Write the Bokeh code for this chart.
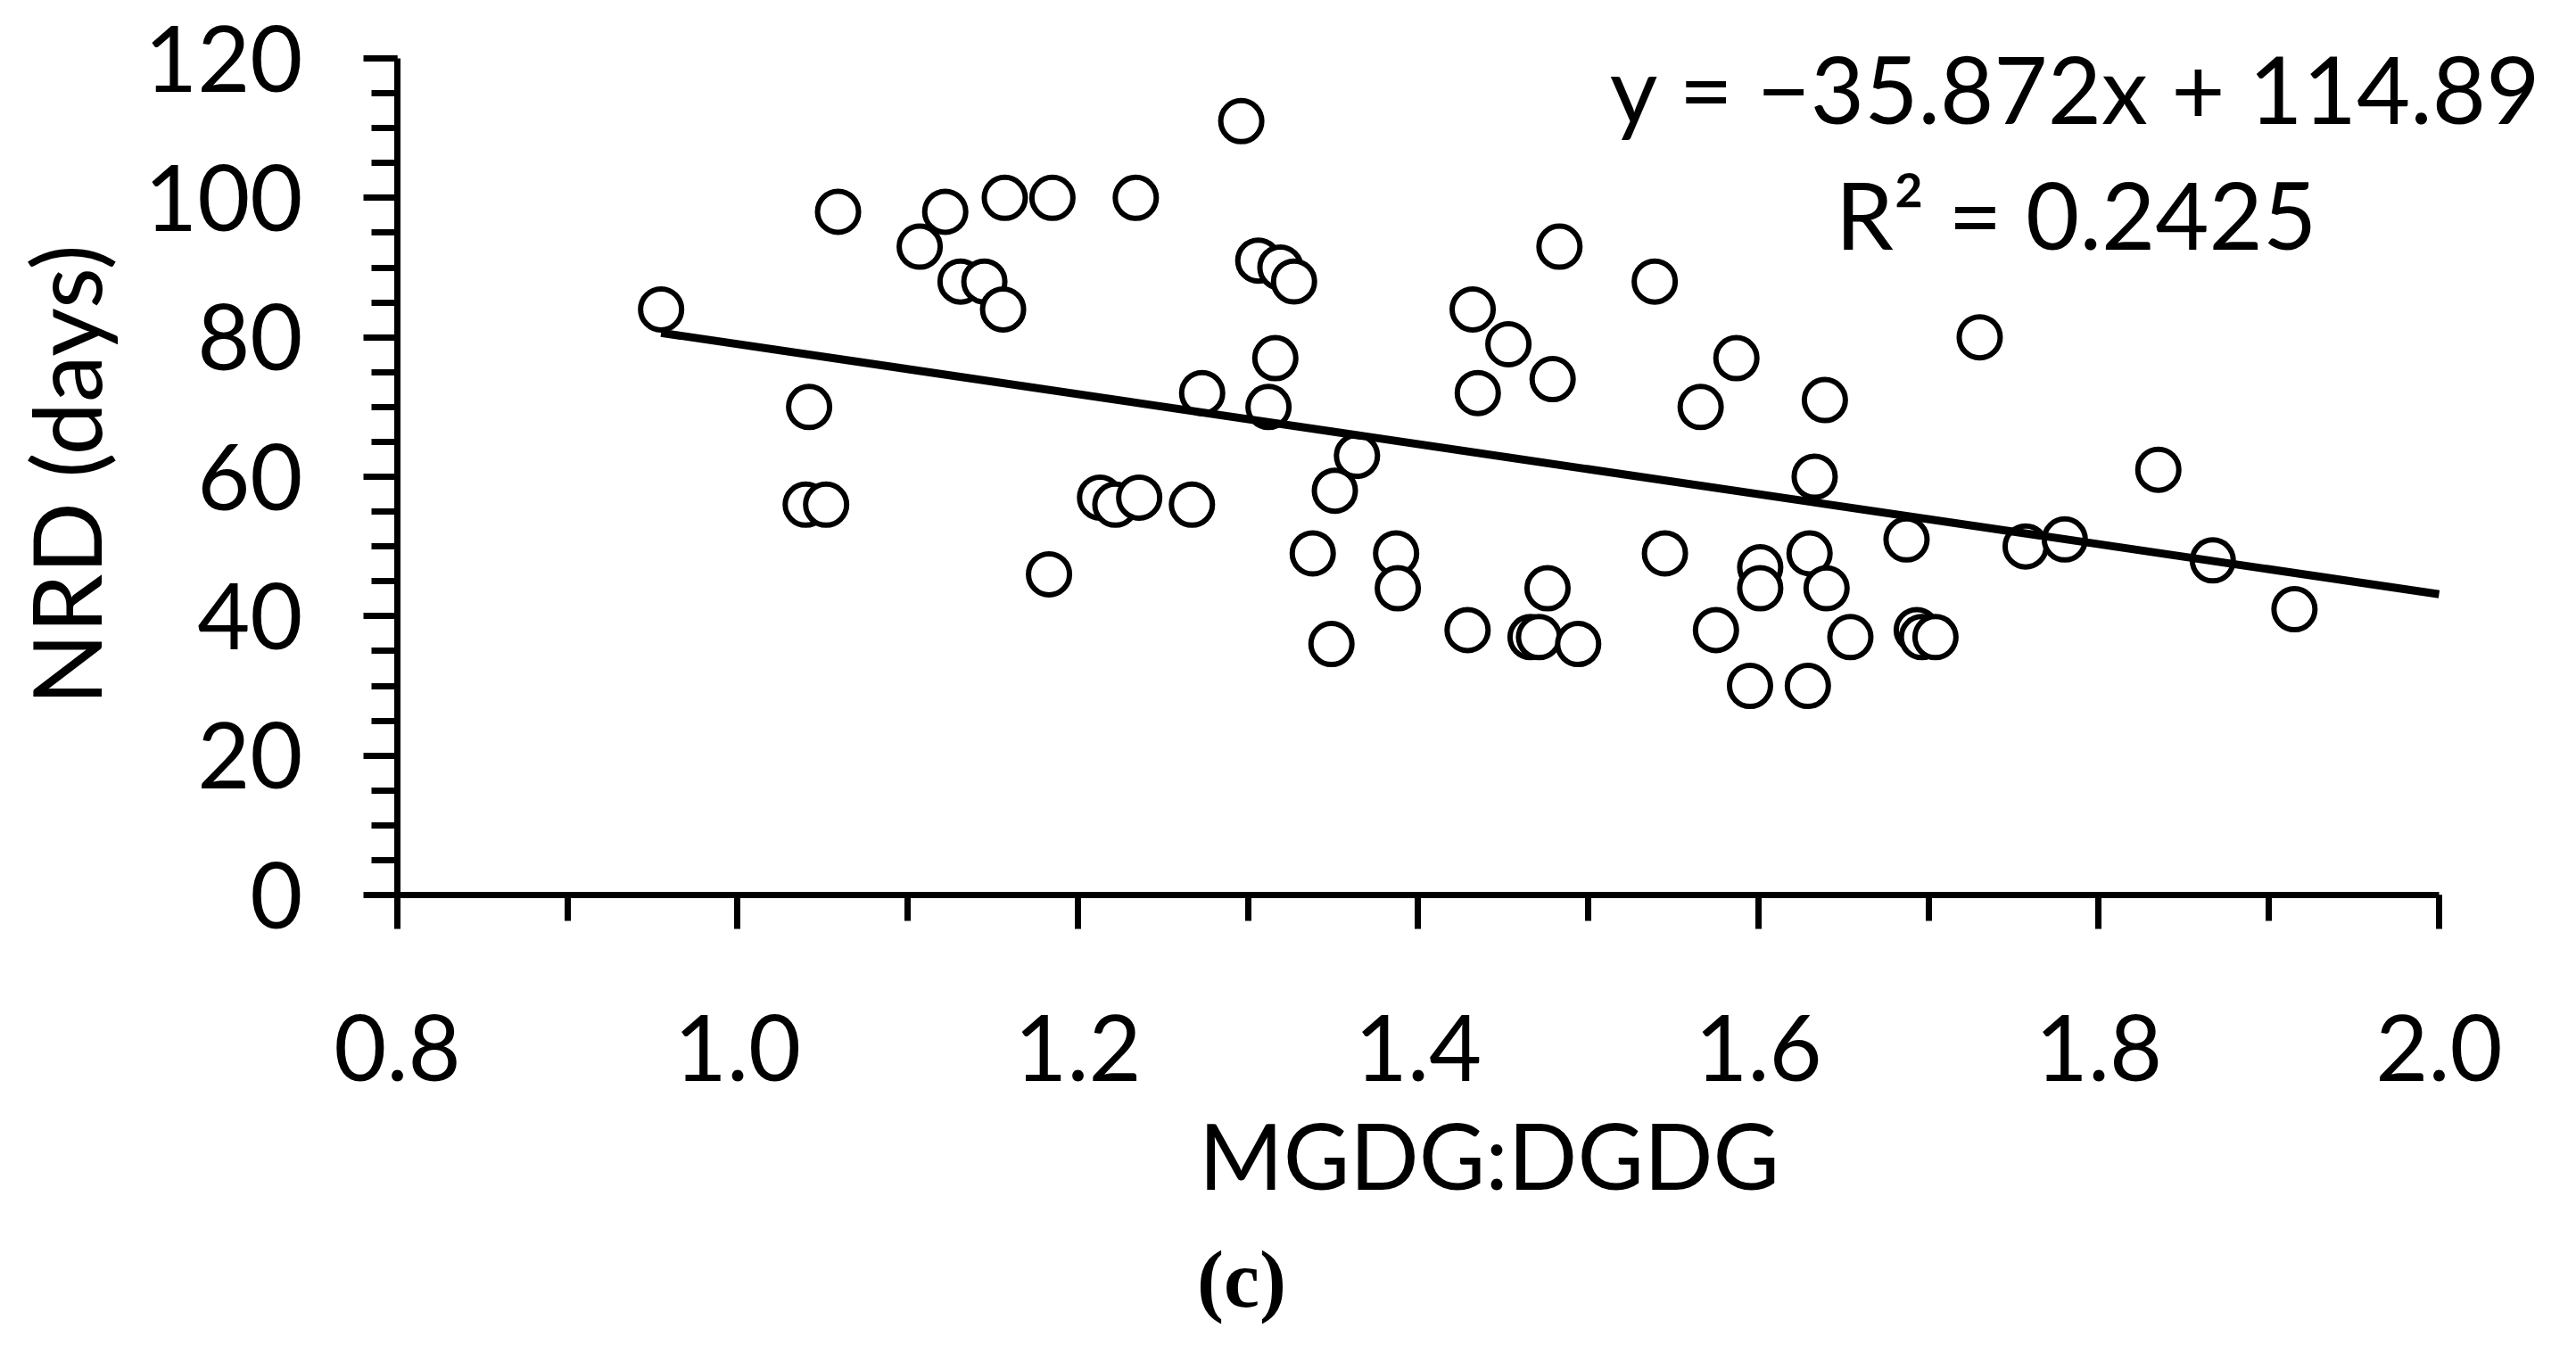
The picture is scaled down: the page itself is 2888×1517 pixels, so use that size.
import math
from bokeh.plotting import figure
from bokeh.models import Range1d, SingleIntervalTicker, NumeralTickFormatter, Label
from bokeh.embed import file_html
from bokeh.resources import INLINE

# ---- data ----
mgdg_dgdg = [0.955, 1.042, 1.040, 1.052, 1.059, 1.107, 1.122, 1.131, 1.145, 1.156,
             1.157, 1.185, 1.183, 1.213, 1.222, 1.236, 1.234, 1.267, 1.273, 1.296,
             1.306, 1.319, 1.327, 1.312, 1.316, 1.364, 1.351, 1.338, 1.349, 1.387,
             1.388, 1.432, 1.435, 1.453, 1.429, 1.466, 1.471, 1.479, 1.476, 1.483,
             1.494, 1.539, 1.545, 1.566, 1.575, 1.587, 1.595, 1.601, 1.601, 1.629,
             1.630, 1.633, 1.639, 1.640, 1.654, 1.687, 1.693, 1.696, 1.704, 1.730,
             1.757, 1.780, 1.835, 1.867, 1.915]
nrd_days = [84, 70, 56, 56, 98, 93, 98, 88, 88, 84,
            100, 100, 46, 57, 56, 57, 100, 56, 72, 111,
            91, 90, 88, 70, 77, 63, 58, 49, 36, 49,
            44, 84, 72, 79, 38, 37, 37, 74, 44, 93,
            36, 88, 49, 70, 38, 77, 30, 47, 44, 30,
            49, 60, 71, 44, 37, 51, 38, 37, 37, 80,
            50, 51, 61, 48, 41]

slope = -35.872
intercept = 114.89
r_squared = 0.2425

x_min, x_max = 0.8, 2.0
y_min, y_max = 0, 120

x_title = "MGDG:DGDG"
y_title = "NRD (days)"
eq_text = "y = \u221235.872x + 114.89"
r2_text = "R\u00b2 = 0.2425"
panel_text = "(c)"

FONT = "Lato"

# The frame covers the whole canvas; the axes are drawn at fixed locations
# so that every text can be placed freely without being clipped.
p = figure(width=2872, height=1500, output_backend="svg", toolbar_location=None,
           x_range=Range1d(0.56671, 2.07235), y_range=Range1d(-63.582, 128.316),
           min_border_left=0, min_border_right=0, min_border_top=0,
           min_border_bottom=0)
p.outline_line_color = None
p.xgrid.visible = False
p.ygrid.visible = False
p.background_fill_color = "white"
p.border_fill_color = "white"

# axes
p.xaxis.ticker = SingleIntervalTicker(interval=0.2, num_minor_ticks=2)
p.yaxis.ticker = SingleIntervalTicker(interval=20, num_minor_ticks=4)
p.xaxis.formatter = NumeralTickFormatter(format="0.0")
p.xaxis.bounds = (x_min, x_max)
p.yaxis.bounds = (y_min, y_max)
p.xaxis.fixed_location = y_min
p.yaxis.fixed_location = x_min
for ax in (p.xaxis, p.yaxis):
    ax.axis_line_width = 7
    ax.axis_line_color = "black"
    ax.major_tick_line_width = 7
    ax.minor_tick_line_width = 7
    ax.major_tick_line_color = "black"
    ax.minor_tick_line_color = "black"
    ax.major_tick_in = 0
    ax.minor_tick_in = 0
    ax.major_tick_out = 38
    ax.minor_tick_out = 29
    ax.major_label_text_font = FONT
    ax.major_label_text_font_size = "102px"
    ax.major_label_text_color = "black"
p.xaxis.major_label_standoff = 96
p.yaxis.major_label_standoff = 68

# scatter points
p.scatter(mgdg_dgdg, nrd_days, marker="circle", size=46, fill_color="white",
          line_color="black", line_width=6)

# trend line
tx = [min(mgdg_dgdg), x_max]
ty = [slope * v + intercept for v in tx]
p.line(tx, ty, line_color="black", line_width=9)

# regression texts
p.add_layout(Label(x=1.7866, y=115.8, text=eq_text, text_align="center",
                   text_baseline="alphabetic", text_font=FONT, text_font_size="104px",
                   text_color="black"))
p.add_layout(Label(x=1.7866, y=97.7, text=r2_text, text_align="center",
                   text_baseline="alphabetic", text_font=FONT, text_font_size="104px",
                   text_color="black"))

# axis titles and panel letter
p.add_layout(Label(x=0.60498, y=60.256, text=y_title, angle=math.pi / 2,
                   text_align="center", text_baseline="alphabetic", text_font=FONT,
                   text_font_size="106px", text_color="black"))
p.add_layout(Label(x=1.4417, y=-37.2, text=x_title, text_align="center",
                   text_baseline="alphabetic", text_font=FONT, text_font_size="102px",
                   text_color="black"))
p.add_layout(Label(x=1.2962, y=-55.2, text=panel_text, text_align="center",
                   text_baseline="alphabetic", text_font="Liberation Serif",
                   text_font_style="bold", text_font_size="90px", text_color="black"))

open("out.html", "w").write(file_html(p, INLINE))
